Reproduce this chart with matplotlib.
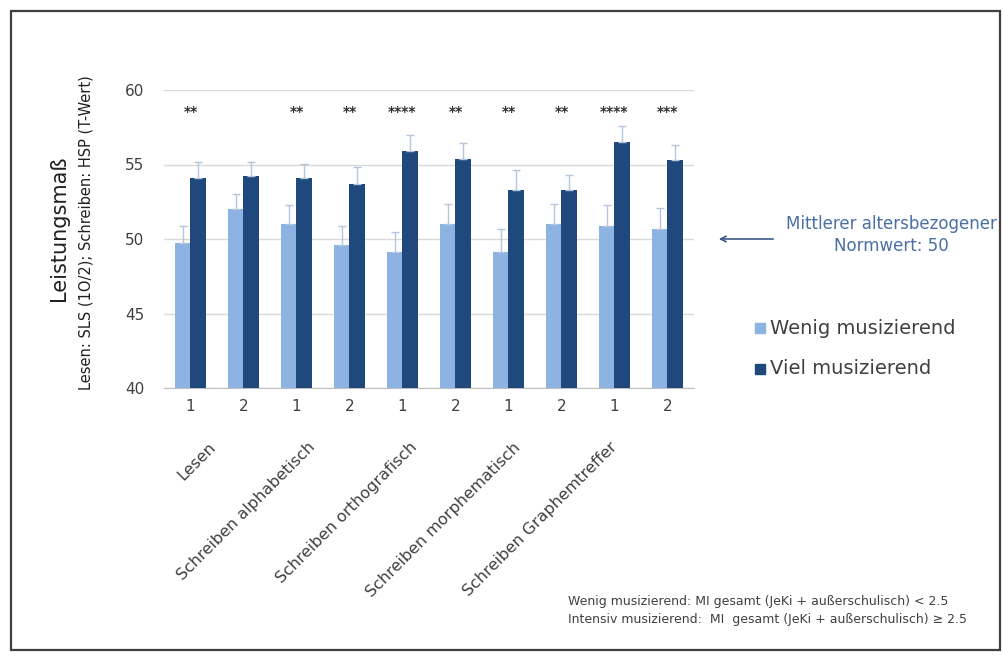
import numpy as np
import matplotlib.pyplot as plt
from matplotlib.patches import Rectangle

# Mittelwerte je Gruppe (Messzeitpunkt 1/2 pro Bereich)
bereiche = ["Lesen", "Schreiben alphabetisch", "Schreiben orthografisch",
            "Schreiben morphematisch", "Schreiben Graphemtreffer"]
zeitpunkte = ["1", "2"] * 5
wenig = [49.7, 52.0, 51.0, 49.6, 49.1, 51.0, 49.1, 51.0, 50.9, 50.7]
viel = [54.1, 54.2, 54.1, 53.7, 55.9, 55.4, 53.3, 53.3, 56.5, 55.3]
wenig_err = [1.15, 1.0, 1.25, 1.25, 1.4, 1.35, 1.6, 1.35, 1.35, 1.4]
viel_err = [1.1, 1.0, 0.95, 1.1, 1.05, 1.05, 1.35, 1.0, 1.1, 1.0]
sterne = ["**", "", "**", "**", "****", "**", "**", "**", "****", "***"]

hell = "#8db3e2"
dunkel = "#1f497d"
grau = "#404040"

W, H = 1004, 661


def fx(px):
    return px / W


def fy(py):
    return 1 - py / H


fig = plt.figure(figsize=(W / 100, H / 100), dpi=100)
fig.patches.append(Rectangle((fx(11), fy(650)), 989 / W, 639 / H,
                             transform=fig.transFigure, fill=False,
                             edgecolor="#404040", linewidth=1.6))

ax = fig.add_axes([fx(164), fy(388), 530 / W, 298 / H])
x = np.arange(len(wenig))
w = 0.3
ax.bar(x - w / 2, wenig, w, color=hell, zorder=3)
ax.bar(x + w / 2, viel, w, color=dunkel, zorder=3)
ax.errorbar(x - w / 2, wenig, yerr=[np.zeros(len(wenig)), wenig_err], fmt="none",
            ecolor="#b4c6de", elinewidth=1, capsize=3, zorder=4)
ax.errorbar(x + w / 2, viel, yerr=[np.zeros(len(viel)), viel_err], fmt="none",
            ecolor="#b4c6de", elinewidth=1, capsize=3, zorder=4)

for xi, s in zip(x, sterne):
    if s:
        ax.text(xi, 58.5, s, ha="center", va="center", fontsize=10,
                fontweight="bold", color="#303030")

ax.set_ylim(40, 60)
ax.set_xlim(-0.5, len(x) - 0.5)
ax.set_yticks([40, 45, 50, 55, 60])
ax.yaxis.grid(True, color="#d9d9d9", linewidth=1, zorder=0)
for sp in ["top", "right", "left"]:
    ax.spines[sp].set_visible(False)
ax.spines["bottom"].set_color("#bfbfbf")
ax.tick_params(axis="y", length=0, labelsize=11, labelcolor=grau, pad=14)
ax.set_xticks(x)
ax.set_xticklabels(zeitpunkte, fontsize=11, color=grau)
ax.tick_params(axis="x", length=0, pad=8)

# Bereichsbeschriftungen, schräg unter je zwei Balkengruppen
enden = [213, 313, 415, 518, 615]
for b, px in zip(bereiche, enden):
    fig.text(fx(px), fy(445), b, rotation=45, rotation_mode="anchor",
             ha="right", va="center", fontsize=11.5, color=grau)

fig.text(fx(59), fy(228), "Leistungsmaß", rotation=90, ha="center",
         va="center", fontsize=15, color="#202020")
fig.text(fx(86), fy(233), "Lesen: SLS (1O/2); Schreiben: HSP (T-Wert)",
         rotation=90, ha="center", va="center", fontsize=10.5, color="#202020")

# Hinweis auf den Normwert
fig.text(fx(891), fy(235), "Mittlerer altersbezogener\nNormwert: 50",
         ha="center", va="center", fontsize=12, color="#4a6fa5", linespacing=1.25)
fig.add_artist(plt.Annotation("", xy=(fx(716), fy(239)),
                              xytext=(fx(776), fy(239)),
                              xycoords="figure fraction",
                              arrowprops=dict(arrowstyle="->", color="#3b5a8a",
                                              lw=1.2)))

# Legende
fig.patches.append(Rectangle((fx(755), fy(333)), 10 / W, 10 / H,
                             transform=fig.transFigure, color=hell))
fig.patches.append(Rectangle((fx(755), fy(374)), 10 / W, 10 / H,
                             transform=fig.transFigure, color=dunkel))
fig.text(fx(770), fy(328), "Wenig musizierend", ha="left", va="center",
         fontsize=14, color=grau)
fig.text(fx(770), fy(369), "Viel musizierend", ha="left", va="center",
         fontsize=14, color=grau)

fig.text(fx(568), fy(601),
         "Wenig musizierend: MI gesamt (JeKi + außerschulisch) < 2.5",
         ha="left", va="center", fontsize=9, color=grau)
fig.text(fx(568), fy(619),
         "Intensiv musizierend:  MI  gesamt (JeKi + außerschulisch) ≥ 2.5",
         ha="left", va="center", fontsize=9, color=grau)

fig.savefig("out.png", dpi=100)
